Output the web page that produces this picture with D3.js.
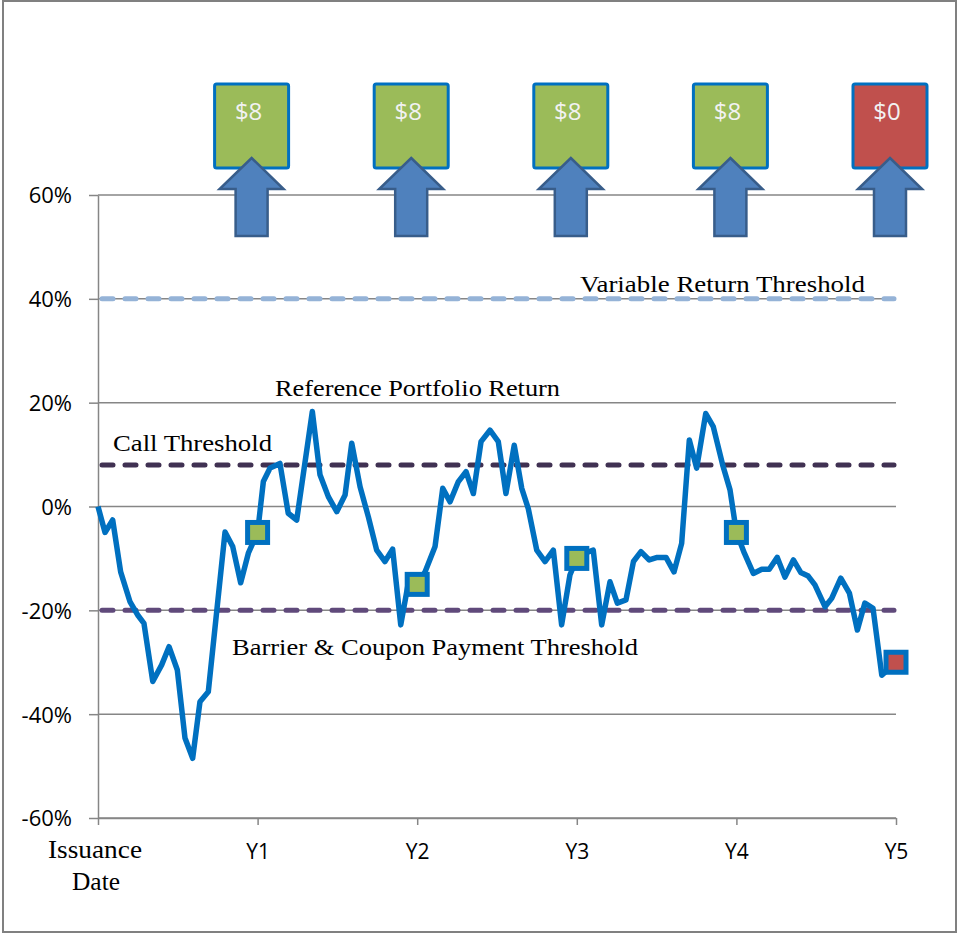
<!DOCTYPE html>
<html>
<head>
<meta charset="utf-8">
<script src="https://cdn.jsdelivr.net/npm/d3@7"></script>
<style>
  html, body { margin: 0; padding: 0; background: #fff; }
  svg { display: block; }
</style>
</head>
<body>
<svg id="chart" width="958" height="934"></svg>
<script>
// Reference portfolio return path (time in years since issuance, return in %)
const years = [
  0, 0.044, 0.092, 0.142, 0.2, 0.251, 0.288, 0.343, 0.399, 0.445, 0.497, 0.545, 0.593, 0.639, 0.691,
  0.796, 0.844, 0.894, 0.942, 1.0, 1.036, 1.078, 1.14, 1.192, 1.245, 1.343, 1.391, 1.443, 1.496, 1.548,
  1.59, 1.642, 1.694, 1.746, 1.798, 1.846, 1.897, 1.944, 2.0, 2.049, 2.112, 2.16, 2.206, 2.258, 2.306,
  2.352, 2.4, 2.456, 2.508, 2.556, 2.608, 2.655, 2.696, 2.749, 2.801, 2.853, 2.905, 2.957, 3.0, 3.05,
  3.103, 3.156, 3.208, 3.254, 3.308, 3.355, 3.402, 3.454, 3.504, 3.559, 3.609, 3.657, 3.705, 3.751,
  3.808, 3.855, 3.914, 3.96, 4.0, 4.05, 4.106, 4.159, 4.206, 4.256, 4.304, 4.357, 4.403, 4.45, 4.492,
  4.555, 4.597, 4.654, 4.708, 4.758, 4.805, 4.856, 4.911, 5.0
];
const returns = [
  0, -5, -2.6, -12.6, -18.3, -21, -22.5, -33.7, -30.5, -27, -31.5, -44.6, -48.5, -37.6, -35.7,
  -4.9, -7.7, -14.7, -9, -5, 4.8, 7.4, 8.3, -1.3, -2.6, 18.3, 6.1, 1.9, -1, 2.2,
  12.2, 3.8, -2, -8.4, -10.6, -8.2, -22.8, -14.8, -15, -12.6, -7.7, 3.5, 0.9, 4.8, 6.7,
  2.5, 12.5, 14.7, 12.5, 2.5, 11.8, 3.5, -0.4, -8.4, -10.6, -8.4, -22.8, -13.2, -10, -9,
  -8.4, -22.8, -14.5, -18.6, -18, -10.6, -8.7, -10.3, -9.8, -9.8, -12.6, -7.1, 12.8, 7.4,
  17.9, 15.4, 8, 3.2, -5, -9, -12.9, -12.1, -12.1, -9.8, -13.6, -10.3, -12.7, -13.4, -15.1,
  -19.3, -17.7, -13.8, -16.7, -23.8, -18.6, -19.6, -32.5, -30
];

// Annual observation dates and the return observed on each
const observationYears = [1, 2, 3, 4, 5];
const observationValues = [-5, -15, -10, -5, -30];
const couponLabels = ["$8", "$8", "$8", "$8", "$0"];
const couponPaid = [true, true, true, true, false];

// Axis ticks
const yTicks = [-60, -40, -20, 0, 20, 40, 60];
const xTicks = [0, 1, 2, 3, 4, 5];
const xTickLabels = ["", "Y1", "Y2", "Y3", "Y4", "Y5"];

// Threshold levels (%)
const variableReturnThreshold = 40;
const callThreshold = 8;
const barrierThreshold = -20;

const svg = d3.select("#chart");
const x = d3.scaleLinear().domain([0, 5]).range([98, 896]);
const y = d3.scaleLinear().domain([-60, 60]).range([818, 195]);

const GRID = "#868686";
const sansFont = "'Open Sans', 'Liberation Sans', sans-serif";
const serifFont = "'Liberation Serif', 'DejaVu Serif', serif";

// outer frame
svg.append("rect")
  .attr("x", 3).attr("y", 1).attr("width", 953).attr("height", 931)
  .attr("fill", "#fff").attr("stroke", "#808080").attr("stroke-width", 2);

// horizontal gridlines
svg.append("g").selectAll("line").data(yTicks).join("line")
  .attr("x1", x(0)).attr("x2", x(5))
  .attr("y1", d => y(d)).attr("y2", d => y(d))
  .attr("stroke", GRID).attr("stroke-width", 1.5);

// y axis
const yAxis = svg.append("g")
  .attr("transform", `translate(${x(0)},0)`)
  .call(d3.axisLeft(y).tickValues(yTicks).tickFormat(d => d + "%").tickSize(9).tickSizeOuter(0));
yAxis.select(".domain").attr("stroke", GRID).attr("stroke-width", 1.5);
yAxis.selectAll(".tick line").attr("stroke", GRID).attr("stroke-width", 1.5);
yAxis.selectAll(".tick text")
  .attr("x", -26).attr("dy", "0.36em")
  .attr("font-family", sansFont).attr("font-size", 22).attr("fill", "#000");

// x axis
const xAxis = svg.append("g")
  .attr("transform", `translate(0,${y(-60)})`)
  .call(d3.axisBottom(x).tickValues(xTicks).tickFormat((d, i) => xTickLabels[i]).tickSize(7).tickSizeOuter(0));
xAxis.select(".domain").attr("stroke", GRID).attr("stroke-width", 1.5);
xAxis.selectAll(".tick line").attr("stroke", GRID).attr("stroke-width", 1.5);
xAxis.selectAll(".tick text")
  .attr("y", 26).attr("dy", "0.71em")
  .attr("font-family", sansFont).attr("font-size", 21).attr("fill", "#000");

// issuance date label (two lines, serif)
const issue = svg.append("text")
  .attr("text-anchor", "middle")
  .attr("font-family", serifFont).attr("font-size", 25).attr("fill", "#000");
issue.append("tspan").attr("x", x(0) - 3).attr("y", 858)
  .attr("textLength", 94).attr("lengthAdjust", "spacingAndGlyphs").text("Issuance");
issue.append("tspan").attr("x", x(0) - 2).attr("y", 890)
  .attr("textLength", 48).attr("lengthAdjust", "spacingAndGlyphs").text("Date");

// threshold lines
const thresholds = [
  { v: variableReturnThreshold, color: "#95B3D7" },
  { v: callThreshold, color: "#403152" },
  { v: barrierThreshold, color: "#604A7B" }
];
svg.append("g").selectAll("line").data(thresholds).join("line")
  .attr("x1", x(0) + 4).attr("x2", x(5) - 2)
  .attr("y1", d => y(d.v)).attr("y2", d => y(d.v))
  .attr("stroke", d => d.color).attr("stroke-width", 5)
  .attr("stroke-linecap", "round")
  .attr("stroke-dasharray", "11 12");

// portfolio return line
const line = d3.line().x((d, i) => x(years[i])).y(d => y(d));
svg.append("path")
  .datum(returns)
  .attr("d", line)
  .attr("fill", "none")
  .attr("stroke", "#0070C0")
  .attr("stroke-width", 5.5)
  .attr("stroke-linejoin", "round");

// observation markers
svg.append("g").selectAll("rect").data(observationValues).join("rect")
  .attr("x", (d, i) => x(observationYears[i]) - 10)
  .attr("y", d => y(d) - 10)
  .attr("width", 20).attr("height", 20)
  .attr("fill", (d, i) => couponPaid[i] ? "#9BBB59" : "#C0504D")
  .attr("stroke", "#0070C0").attr("stroke-width", 5);

// coupon boxes with upward arrows
const boxes = svg.append("g").selectAll("g").data(couponLabels).join("g")
  .attr("transform", (d, i) => `translate(${x(observationYears[i]) - 6},0)`);
boxes.append("rect")
  .attr("x", -37).attr("y", 84).attr("width", 74).attr("height", 84).attr("rx", 2)
  .attr("fill", (d, i) => couponPaid[i] ? "#9BBB59" : "#C0504D")
  .attr("stroke", "#0070C0").attr("stroke-width", 3);
boxes.append("text")
  .attr("x", -3).attr("y", 120).attr("text-anchor", "middle")
  .attr("font-family", sansFont).attr("font-size", 24).attr("fill", "#F2F2F2")
  .text(d => d);
boxes.append("path")
  .attr("d", "M0,158 L32,189 L16,189 L16,236 L-16,236 L-16,189 L-32,189 Z")
  .attr("fill", "#4F81BD").attr("stroke", "#385D8A").attr("stroke-width", 2.5)
  .attr("stroke-linejoin", "miter");

// series / threshold annotations
const notes = [
  { text: "Variable Return Threshold", x: 580, y: 292, w: 285 },
  { text: "Reference Portfolio Return", x: 275, y: 396, w: 285 },
  { text: "Call Threshold", x: 113, y: 451, w: 159 },
  { text: "Barrier & Coupon Payment Threshold", x: 232, y: 655, w: 406 }
];
svg.append("g").selectAll("text").data(notes).join("text")
  .attr("x", d => d.x).attr("y", d => d.y)
  .attr("textLength", d => d.w).attr("lengthAdjust", "spacingAndGlyphs")
  .attr("font-family", serifFont).attr("font-size", 24).attr("fill", "#000")
  .text(d => d.text);
</script>
</body>
</html>
